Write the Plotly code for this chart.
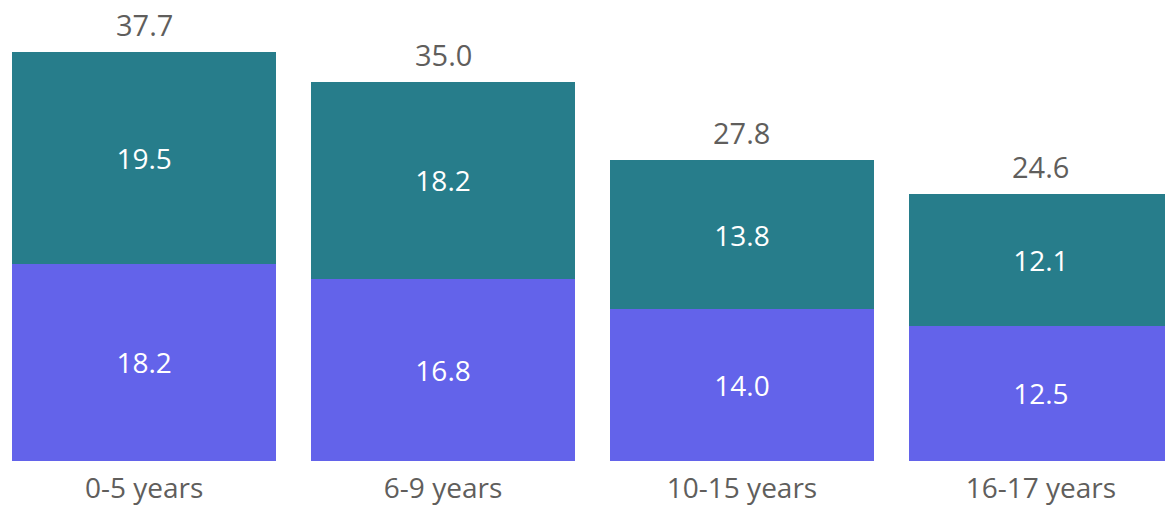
import plotly.graph_objects as go

categories = ["0-5 years", "6-9 years", "10-15 years", "16-17 years"]
bottom_values = [18.2, 16.8, 14.0, 12.5]
top_values = [19.5, 18.2, 13.8, 12.1]
totals = [37.7, 35.0, 27.8, 24.6]

FONT = "Open Sans"
GRAY = "#605E5C"

fig = go.Figure()
fig.add_trace(go.Bar(
    x=categories, y=bottom_values, marker_color="#6363EA",
    text=[f"{v:.1f}" for v in bottom_values], textposition="inside",
    insidetextanchor="middle", textfont=dict(color="white", size=28, family=FONT),
    marker_line_width=0, hoverinfo="skip"))
fig.add_trace(go.Bar(
    x=categories, y=top_values, marker_color="#277D8B",
    text=[f"{v:.1f}" for v in top_values], textposition="inside",
    insidetextanchor="middle", textfont=dict(color="white", size=28, family=FONT),
    marker_line_width=0, hoverinfo="skip"))

for c, t in zip(categories, totals):
    fig.add_annotation(x=c, y=t, text=f"{t:.1f}", showarrow=False,
                       yanchor="bottom", yshift=6,
                       font=dict(color=GRAY, size=29, family=FONT))

fig.update_layout(
    barmode="stack", bargap=0.117, showlegend=False,
    width=1165, height=506,
    margin=dict(l=0, r=0, t=0, b=41),
    paper_bgcolor="white", plot_bgcolor="white",
    font=dict(family=FONT, color=GRAY),
    uniformtext=dict(minsize=28, mode="show"),
)
fig.update_xaxes(range=[-0.482, 3.415], showgrid=False, zeroline=False,
                 showline=False, ticks="", ticklabelstandoff=8,
                 tickfont=dict(size=28, color=GRAY, family=FONT))
fig.update_yaxes(range=[0, 42.54], visible=False)

fig.write_html("out.html", config={"displayModeBar": False},
               post_script="document.body.style.margin='0';document.body.style.overflow='hidden';")
